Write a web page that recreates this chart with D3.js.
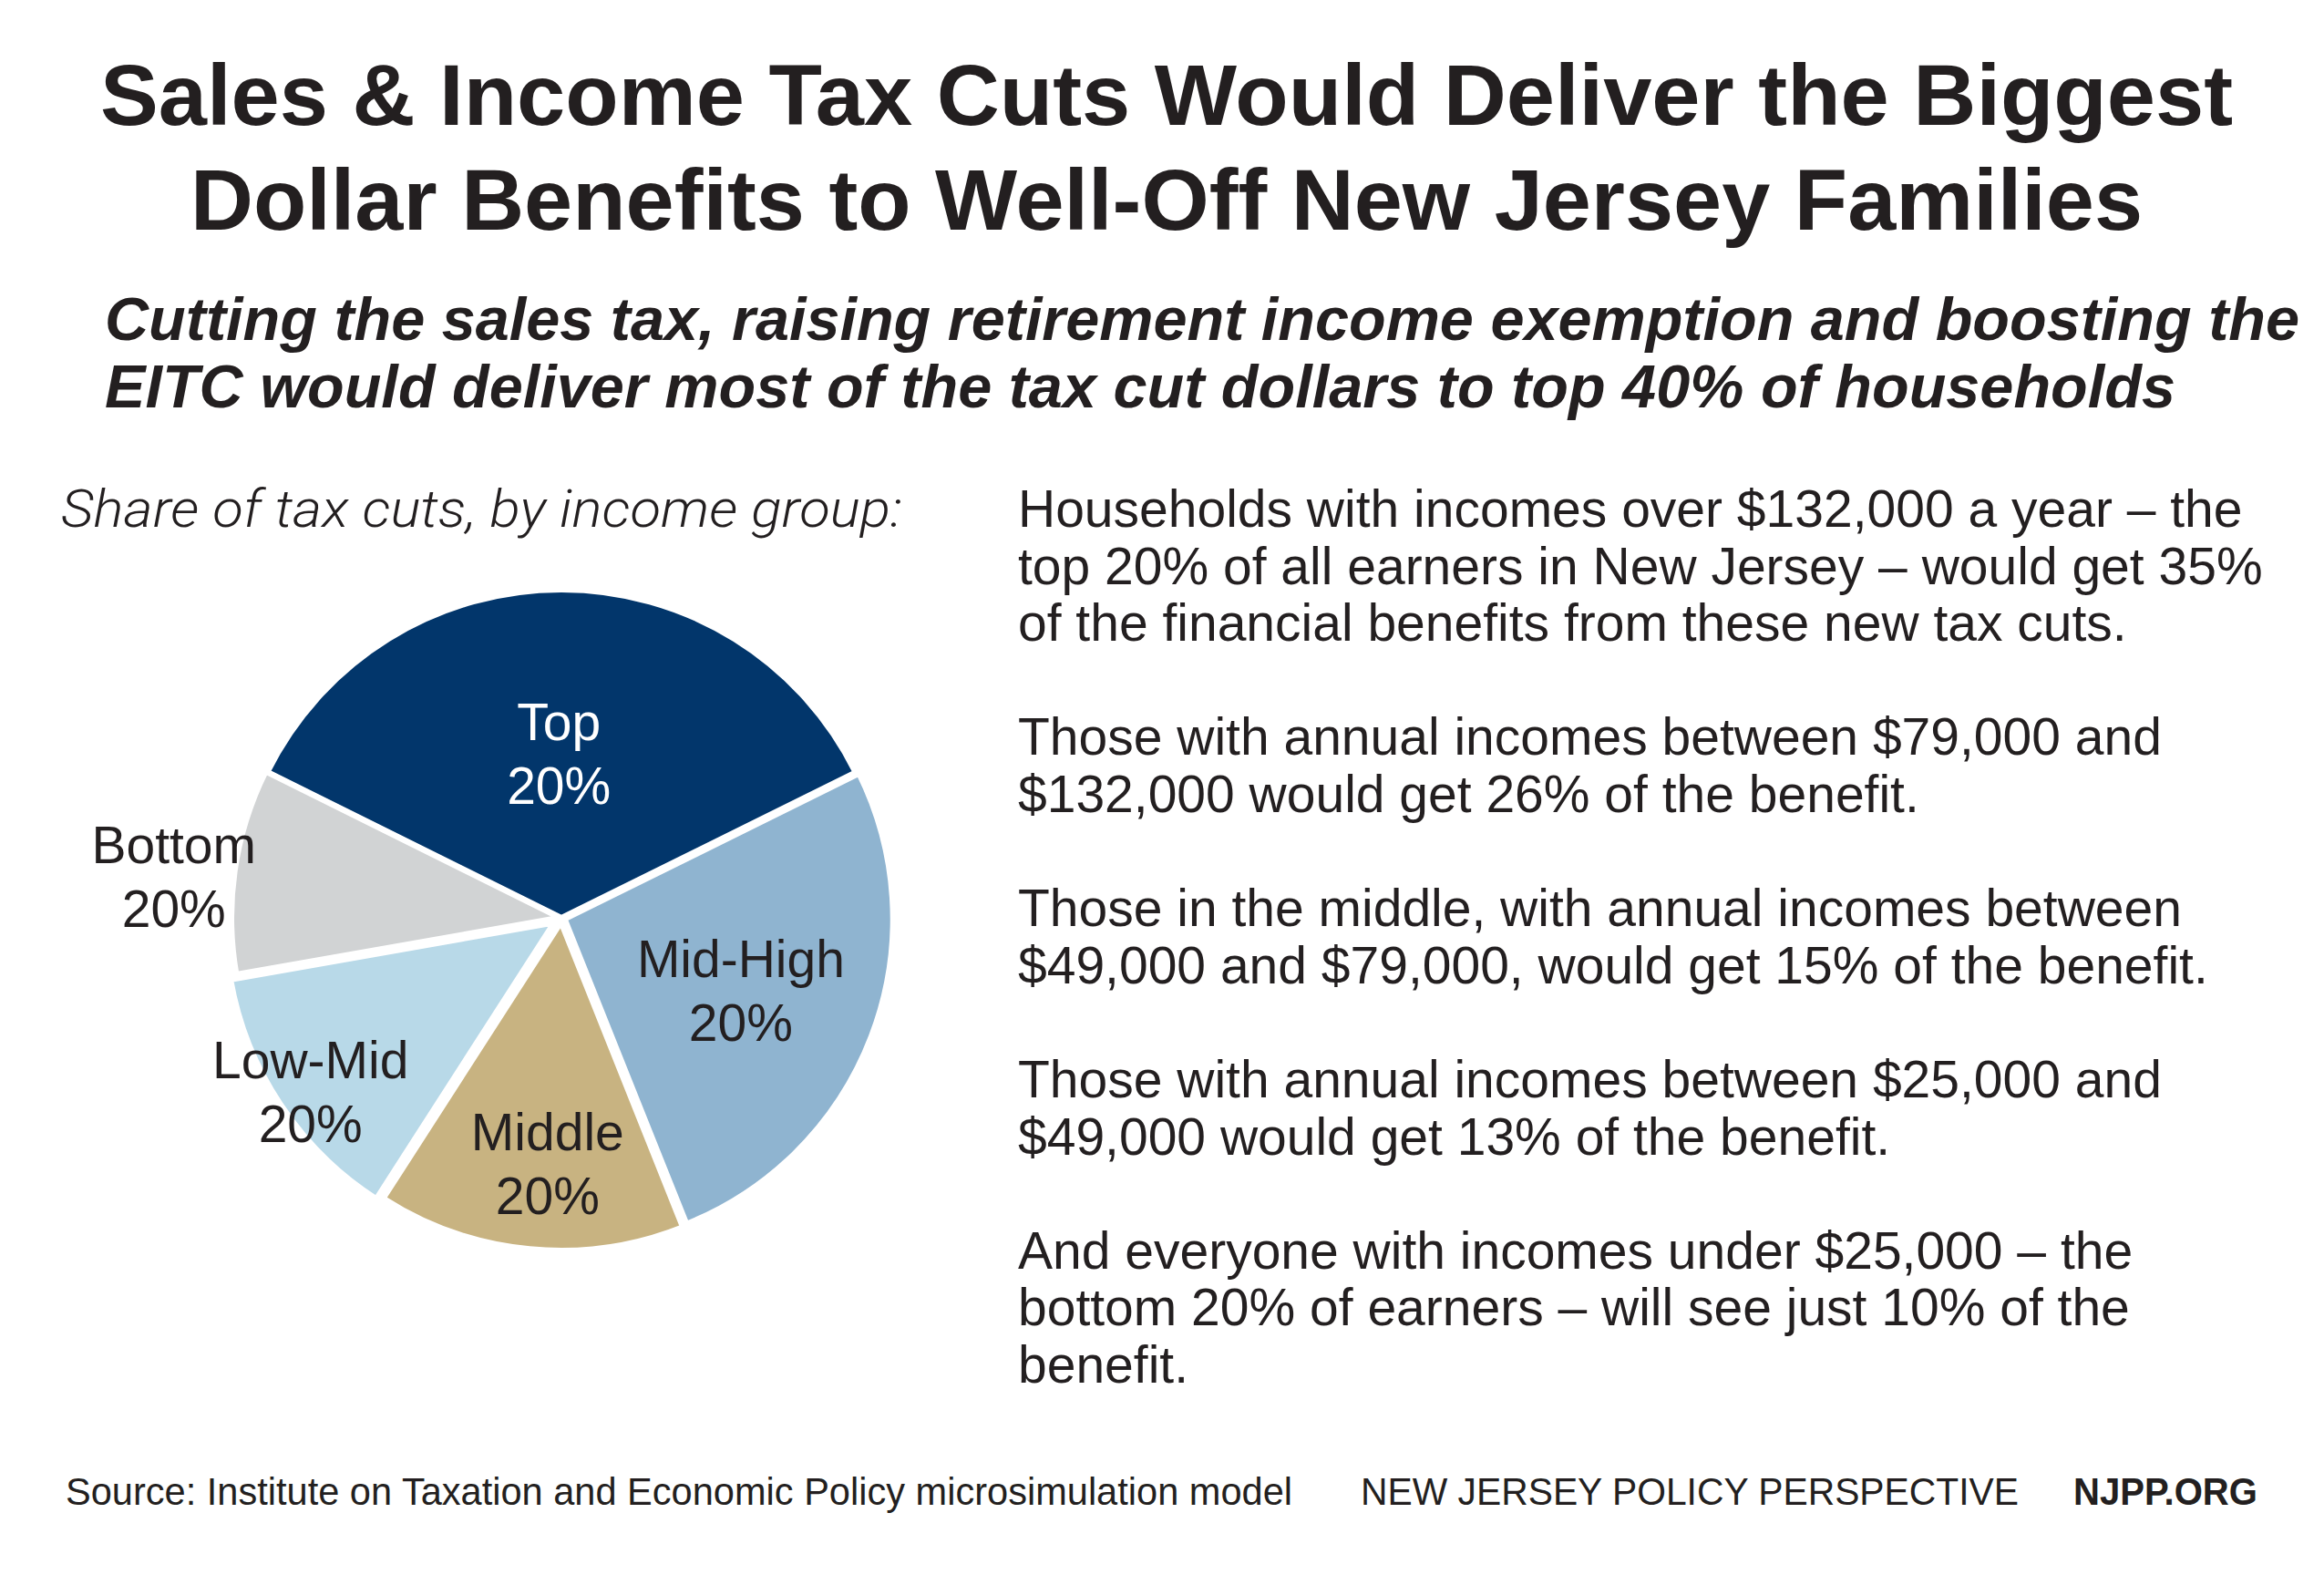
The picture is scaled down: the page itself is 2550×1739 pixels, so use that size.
<!DOCTYPE html>
<html>
<head>
<meta charset="utf-8">
<script src="https://cdn.jsdelivr.net/npm/d3@7"></script>
<style>
  html, body { margin: 0; padding: 0; background: #ffffff; }
  svg { display: block; }
</style>
</head>
<body>
<svg id="chart" width="2550" height="1739"></svg>
<script>
// ---------------- DATA ----------------
const groups = ["Top", "Mid-High", "Middle", "Low-Mid", "Bottom"];
const shares = [35, 26, 15, 13, 10];            // share of tax cuts (%)
const groupLabels = ["20%", "20%", "20%", "20%", "20%"]; // each is a quintile of households

const titleLines = [
  "Sales & Income Tax Cuts Would Deliver the Biggest",
  "Dollar Benefits to Well-Off New Jersey Families"
];
const subtitleLines = [
  "Cutting the sales tax, raising retirement income exemption and boosting the",
  "EITC would deliver most of the tax cut dollars to top 40% of households"
];
const chartLabel = "Share of tax cuts, by income group:";
const paragraphs = [
  ["Households with incomes over $132,000 a year \u2013 the",
   "top 20% of all earners in New Jersey \u2013 would get 35%",
   "of the financial benefits from these new tax cuts."],
  ["Those with annual incomes between $79,000 and",
   "$132,000 would get 26% of the benefit."],
  ["Those in the middle, with annual incomes between",
   "$49,000 and $79,000, would get 15% of the benefit."],
  ["Those with annual incomes between $25,000 and",
   "$49,000 would get 13% of the benefit."],
  ["And everyone with incomes under $25,000 \u2013 the",
   "bottom 20% of earners \u2013 will see just 10% of the",
   "benefit."]
];
const sourceText = "Source: Institute on Taxation and Economic Policy microsimulation model";
const orgText = "NEW JERSEY POLICY PERSPECTIVE";
const urlText = "NJPP.ORG";

// ---------------- STYLE / LAYOUT ----------------
const colors = ["#02366b", "#8fb4d0", "#c8b381", "#b8d9e8", "#d1d3d4"];
const labelColors = ["#ffffff", "#231f20", "#231f20", "#231f20", "#231f20"];
const explode = [0, 4, 5, 10, 2];
// label placement: [angle in degrees clockwise from 12 o'clock, distance from centre]
const labelPolar = [[-1, 160], [117, 221], [183, 290], [232.5, 347], [273.4, 426]];
const textColor = "#231f20";
const sans = "'Liberation Sans', Arial, Helvetica, sans-serif";

const svg = d3.select("#chart");

// ---------------- TITLE ----------------
const titleY = [137, 252];
titleLines.forEach((t, i) => {
  svg.append("text")
    .attr("x", 1280).attr("y", titleY[i])
    .attr("text-anchor", "middle")
    .attr("font-family", sans).attr("font-weight", "bold")
    .attr("font-size", 95).attr("fill", textColor)
    .attr("textLength", i === 0 ? 2340 : 2142)
    .attr("lengthAdjust", "spacingAndGlyphs")
    .text(t);
});

// ---------------- SUBTITLE ----------------
const subY = [373, 447];
const subW = [2408, 2272];
subtitleLines.forEach((t, i) => {
  svg.append("text")
    .attr("x", 115).attr("y", subY[i])
    .attr("font-family", sans).attr("font-weight", "bold")
    .attr("font-style", "italic")
    .attr("font-size", 66).attr("fill", textColor)
    .attr("textLength", subW[i])
    .attr("lengthAdjust", "spacingAndGlyphs")
    .text(t);
});

// ---------------- CHART LABEL ----------------
svg.append("text")
  .attr("x", 67).attr("y", 578)
  .attr("font-family", "Roboto, 'Liberation Sans', sans-serif")
  .attr("font-weight", 300).attr("font-style", "italic")
  .attr("font-size", 58).attr("fill", textColor)
  .attr("textLength", 923).attr("lengthAdjust", "spacingAndGlyphs")
  .text(chartLabel);

// ---------------- PIE ----------------
const cx = 616, cy = 1007, R = 360;
const start = -63.6 * Math.PI / 180;
const pie = d3.pie().sort(null).value(d => d)
  .startAngle(start).endAngle(start + 2 * Math.PI);
const arcs = pie(shares);
const arc = d3.arc().innerRadius(0).outerRadius(R);

const g = svg.append("g").attr("transform", `translate(${cx},${cy})`);
g.selectAll("path.slice")
  .data(arcs)
  .join("path")
  .attr("class", "slice")
  .attr("d", arc)
  .attr("transform", (d, i) => {
    const a = (d.startAngle + d.endAngle) / 2;
    return `translate(${explode[i] * Math.sin(a)},${-explode[i] * Math.cos(a)})`;
  })
  .attr("fill", (d, i) => colors[i])
  .attr("stroke", "#ffffff")
  .attr("stroke-width", 6)
  .attr("stroke-linejoin", "miter");

const lab = g.selectAll("g.lab")
  .data(arcs)
  .join("g")
  .attr("class", "lab")
  .attr("transform", (d, i) => {
    const a = labelPolar[i][0] * Math.PI / 180, r = labelPolar[i][1];
    return `translate(${r * Math.sin(a)},${-r * Math.cos(a)})`;
  });
lab.append("text")
  .attr("y", -35)
  .attr("text-anchor", "middle")
  .attr("font-family", sans).attr("font-size", 57)
  .attr("fill", (d, i) => labelColors[i])
  .text((d, i) => groups[i]);
lab.append("text")
  .attr("y", 35)
  .attr("text-anchor", "middle")
  .attr("font-family", sans).attr("font-size", 57)
  .attr("fill", (d, i) => labelColors[i])
  .text((d, i) => groupLabels[i]);

// ---------------- RIGHT-HAND TEXT ----------------
const pitch = 62.6;
let lineIdx = 0;
const body = svg.append("g");
paragraphs.forEach(p => {
  p.forEach(line => {
    body.append("text")
      .attr("x", 1117).attr("y", 578 + lineIdx * pitch)
      .attr("font-family", sans).attr("font-size", 57)
      .attr("fill", textColor)
      .text(line);
    lineIdx++;
  });
  lineIdx++; // blank line between paragraphs
});

// ---------------- FOOTER ----------------
const footY = 1651;
svg.append("text")
  .attr("x", 72).attr("y", footY)
  .attr("font-family", sans).attr("font-size", 42).attr("fill", textColor)
  .attr("textLength", 1346).attr("lengthAdjust", "spacingAndGlyphs")
  .text(sourceText);
svg.append("text")
  .attr("x", 1493).attr("y", footY)
  .attr("font-family", sans).attr("font-size", 42).attr("fill", textColor)
  .attr("textLength", 722).attr("lengthAdjust", "spacingAndGlyphs")
  .text(orgText);
svg.append("text")
  .attr("x", 2275).attr("y", footY)
  .attr("font-family", sans).attr("font-weight", "bold")
  .attr("font-size", 42).attr("fill", textColor)
  .attr("textLength", 202).attr("lengthAdjust", "spacingAndGlyphs")
  .text(urlText);
</script>
</body>
</html>
